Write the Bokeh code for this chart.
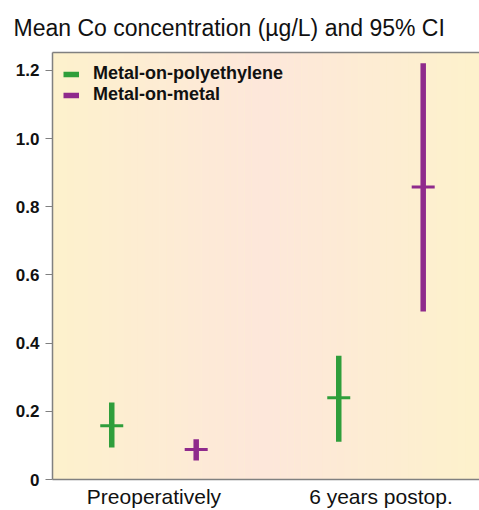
import numpy as np
from bokeh.plotting import figure
from bokeh.models import (Range1d, FixedTicker, LinearAxis, Legend, LegendItem,
                          ColumnDataSource, PrintfTickFormatter)
from bokeh.embed import file_html
from bokeh.resources import INLINE

# ---- data ----
categories = ["Preoperatively", "6 years postop."]
series_names = ["Metal-on-polyethylene", "Metal-on-metal"]
mop_mean = [0.158, 0.240]
mop_lo = [0.094, 0.111]
mop_hi = [0.226, 0.363]
mom_mean = [0.088, 0.858]
mom_lo = [0.056, 0.493]
mom_hi = [0.118, 1.221]
y_ticks = [0, 0.2, 0.4, 0.6, 0.8, 1.0, 1.2]

GREEN = "#2f9e3b"
MAGENTA = "#8f2a8c"
FONT = "Liberation Sans"

x_start, x_end = -0.447, 1.434
y_end = 1.2527
p = figure(width=479, height=510, output_backend="svg", toolbar_location=None,
           x_range=Range1d(x_start, x_end), y_range=Range1d(0, y_end),
           min_border_left=52, min_border_right=0, min_border_top=52, min_border_bottom=30)
p.background_fill_color = "#fdf0d0"
p.border_fill_color = "white"
p.outline_line_color = None
p.grid.visible = False

# background: soft horizontal gradient yellow -> pink -> yellow
n = 60
edges = np.linspace(x_start, x_end, n + 1)
c_edge = np.array([0xfe, 0xf2, 0xcc])
c_mid = np.array([0xfd, 0xe7, 0xdb])
centre = 0.48
cols = []
for i in range(n):
    xm = 0.5 * (edges[i] + edges[i + 1])
    t = max(0.0, 1 - abs(xm - centre) / 0.95)
    c = (c_edge * (1 - t) + c_mid * t).astype(int)
    cols.append("#%02x%02x%02x" % tuple(c))
p.quad(left=edges[:-1], right=edges[1:], bottom=0, top=y_end, fill_color=cols, line_color=None)

offset = 0.186
xs = np.arange(len(categories))
src_mop = ColumnDataSource(dict(x=xs - offset, m=mop_mean, lo=mop_lo, hi=mop_hi))
src_mom = ColumnDataSource(dict(x=xs + offset, m=mom_mean, lo=mom_lo, hi=mom_hi))

r1 = p.segment(x0="x", x1="x", y0="lo", y1="hi", source=src_mop, line_color=GREEN,
               line_width=5.5, line_cap="butt")
p.scatter(x="x", y="m", source=src_mop, marker="dash", size=23, line_color=GREEN, line_width=3)
r2 = p.segment(x0="x", x1="x", y0="lo", y1="hi", source=src_mom, line_color=MAGENTA,
               line_width=5.5, line_cap="butt")
p.scatter(x="x", y="m", source=src_mom, marker="dash", size=23, line_color=MAGENTA, line_width=3)

legend = Legend(items=[LegendItem(label=series_names[0], renderers=[r1]),
                       LegendItem(label=series_names[1], renderers=[r2])],
                location="top_left", background_fill_alpha=0, border_line_color=None,
                margin=11, padding=11, spacing=0, glyph_width=16, glyph_height=20,
                label_standoff=14, label_text_font=FONT, label_text_font_style="bold",
                label_text_font_size="18px", label_text_color="#111111")
p.add_layout(legend)

# axes
ax = p.xaxis[0]
ax.ticker = FixedTicker(ticks=list(xs))
ax.major_label_overrides = {int(i): c for i, c in zip(xs, categories)}
ax.major_tick_line_color = None
ax.major_tick_out = 0
ax.minor_tick_line_color = None
ax.axis_line_color = "#808080"
ax.axis_line_width = 1.5
ax.major_label_text_font = FONT
ax.major_label_text_font_size = "21px"
ax.major_label_text_color = "#111111"
ax.major_label_standoff = 5

ay = p.yaxis[0]
ay.ticker = FixedTicker(ticks=y_ticks)
ay.formatter = PrintfTickFormatter(format="%.1f")
ay.major_label_overrides = {0: "0"}
ay.minor_tick_line_color = None
ay.axis_line_color = "#808080"
ay.axis_line_width = 1.5
ay.major_tick_line_color = "#808080"
ay.major_tick_in = 0
ay.major_tick_out = 7
ay.major_tick_line_width = 1.2
ay.major_label_text_font = FONT
ay.major_label_text_font_style = "bold"
ay.major_label_text_font_size = "17px"
ay.major_label_text_color = "#111111"
ay.major_label_standoff = 6

top = LinearAxis(major_tick_line_color=None, minor_tick_line_color=None, major_tick_out=0,
                 major_tick_in=0, major_label_standoff=0,
                 major_label_text_font_size="0px", axis_line_color="#808080",
                 axis_line_width=1.5, ticker=FixedTicker(ticks=[]))
p.add_layout(top, "above")

p.title.text = "Mean Co concentration (µg/L) and 95% CI"
p.title.text_font = FONT
p.title.text_font_size = "23px"
p.title.text_font_style = "normal"
p.title.text_color = "#111111"
p.title.align = "left"
p.title.offset = -39
p.title.standoff = 23

open("out.html", "w").write(file_html(p, INLINE))
